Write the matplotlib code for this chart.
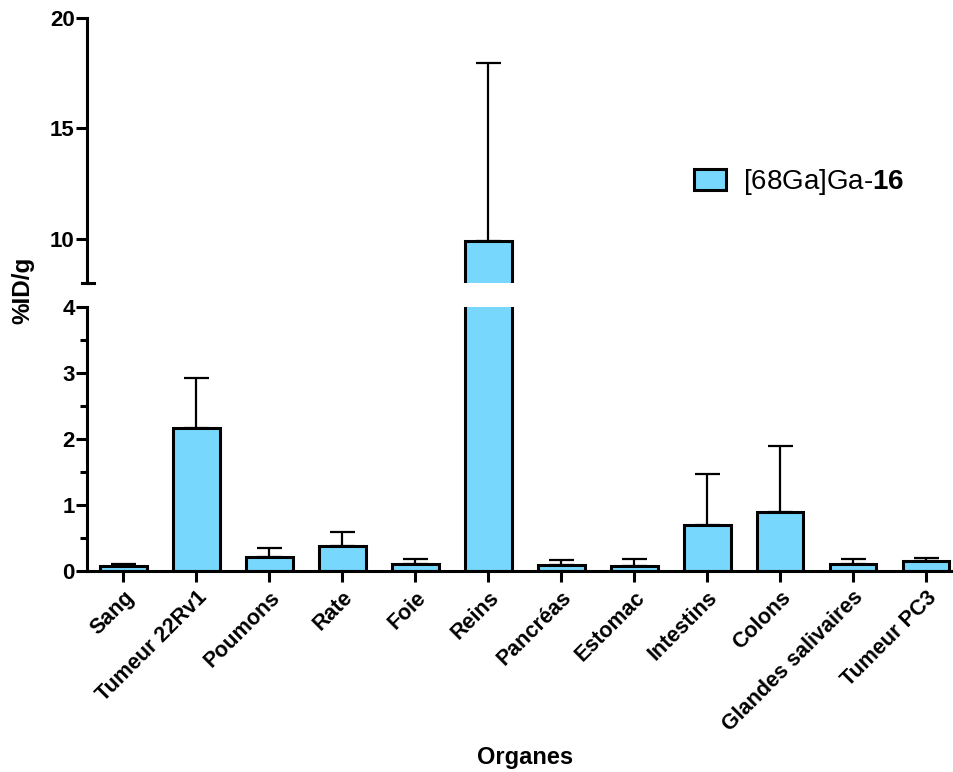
import matplotlib
matplotlib.use("Agg")
import matplotlib.pyplot as plt
import numpy as np

plt.rcParams['font.family'] = ['Liberation Sans', 'DejaVu Sans']
plt.rcParams['mathtext.fontset'] = 'custom'
plt.rcParams['mathtext.rm'] = 'Liberation Sans'
plt.rcParams['mathtext.bf'] = 'Liberation Sans:bold'

organs = ['Sang', 'Tumeur 22Rv1', 'Poumons', 'Rate', 'Foie', 'Reins',
          'Pancréas', 'Estomac', 'Intestins', 'Colons', 'Glandes salivaires',
          'Tumeur PC3']
mean_uptake = [0.08, 2.17, 0.21, 0.38, 0.10, 9.92, 0.09, 0.075, 0.70, 0.89, 0.10, 0.15]
sd_uptake = [0.03, 0.75, 0.14, 0.21, 0.08, 8.05, 0.08, 0.10, 0.77, 1.00, 0.08, 0.04]
series_name = '[68Ga]Ga-$\\mathbf{16}$'

bar_color = '#77D7FD'
lw = 2.2

fig = plt.figure(figsize=(9.54, 7.72), dpi=100)
ax_top = fig.add_axes([0.0912, 0.6334, 0.9078, 0.3433])
ax_bot = fig.add_axes([0.0912, 0.2604, 0.9078, 0.3420])

x = np.arange(len(organs))
yerr = [np.zeros(len(organs)), sd_uptake]

for ax in (ax_top, ax_bot):
    ax.errorbar(x, mean_uptake, yerr=yerr, fmt='none', ecolor='black',
                elinewidth=1.6, capsize=9, capthick=1.6, zorder=1)
    ax.bar(x, mean_uptake, width=0.64, color=bar_color,
           edgecolor='black', linewidth=lw, zorder=2, label=series_name)
    ax.set_xlim(-0.5, 11.37)
    for s in ('top', 'right'):
        ax.spines[s].set_visible(False)
    ax.spines['left'].set_linewidth(lw)
    ax.spines['bottom'].set_linewidth(lw)
    ax.tick_params(axis='y', width=lw, length=8, labelsize=16, pad=1)
    ax.tick_params(axis='x', width=lw, length=8)

# upper part of the broken axis
ax_top.set_ylim(8, 20)
ax_top.set_yticks([10, 15, 20])
ax_top.spines['bottom'].set_visible(False)
ax_top.tick_params(axis='x', bottom=False, labelbottom=False)
ax_top.plot([-0.006, 0.008], [0, 0], color='black', lw=lw,
            transform=ax_top.transAxes, clip_on=False)
for lab in ax_top.get_yticklabels():
    lab.set_fontweight('bold')

# lower part
ax_bot.set_ylim(0, 4)
ax_bot.set_yticks([0, 1, 2, 3, 4])
ax_bot.set_yticks([0.5, 1.5, 2.5, 3.5], minor=True)
ax_bot.tick_params(axis='y', which='minor', width=lw, length=5)
ax_bot.set_xticks(x)
ax_bot.set_xticklabels(organs, rotation=45, ha='right', rotation_mode='anchor',
                       fontsize=15.5, fontweight='bold')
for lab in ax_bot.get_yticklabels():
    lab.set_fontweight('bold')

ax_top.legend(loc='center left', bbox_to_anchor=(0.672, 0.381),
              frameon=False, fontsize=20, handlelength=1.15,
              handleheight=0.8, handletextpad=0.6)

fig.text(0.024, 0.624, '%ID/g', rotation=90, ha='center', va='center',
         fontsize=17.5, fontweight='bold')
fig.text(0.55, 0.019, 'Organes', ha='center', va='center',
         fontsize=17, fontweight='bold')

fig.savefig('out.png', dpi=100)
